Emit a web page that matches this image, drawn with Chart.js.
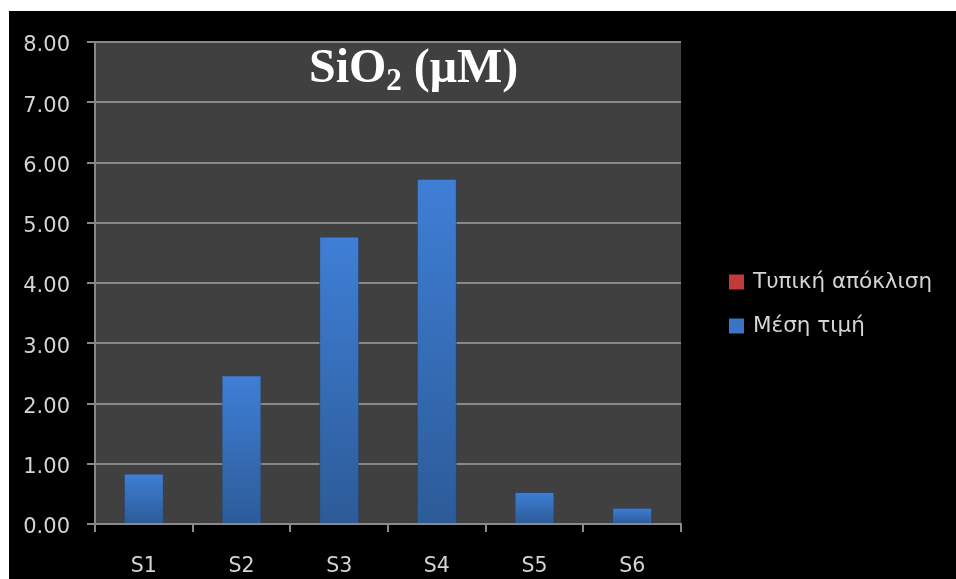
<!DOCTYPE html>
<html>
<head>
<meta charset="utf-8">
<script src="https://cdn.jsdelivr.net/npm/chart.js@4/dist/chart.umd.min.js"></script>
<style>
  html, body { margin: 0; padding: 0; background: #ffffff; }
  #frame { position: absolute; left: 9px; top: 11px; width: 947px; height: 568px; background: #000000; }
  #chart { display: block; }
</style>
</head>
<body>
<div id="frame"><canvas id="chart" width="947" height="568"></canvas></div>
<script>
// Silica concentration per station
const stations = ['S1', 'S2', 'S3', 'S4', 'S5', 'S6'];
const meanValues = [0.84, 2.47, 4.77, 5.73, 0.53, 0.27];
const stdDevValues = [null, null, null, null, null, null];
const seriesNames = ['Τυπική απόκλιση', 'Μέση τιμή'];
const yTicks = [0, 1, 2, 3, 4, 5, 6, 7, 8];

const LABEL_FONT = 'DejaVu Sans, Verdana, sans-serif';
const TEXT_COLOR = '#d4d4d4';

// vertical blue gradient for each bar, from its own top to the baseline
function barGradient(ctx) {
  const chart = ctx.chart;
  const yScale = chart.scales.y;
  if (!yScale || ctx.type !== 'data' || ctx.parsed == null) return '#3a74c4';
  const top = yScale.getPixelForValue(ctx.parsed.y);
  const base = yScale.getPixelForValue(0);
  if (!isFinite(top) || !isFinite(base) || base - top < 1) return '#3a74c4';
  const g = chart.ctx.createLinearGradient(0, top, 0, base);
  g.addColorStop(0, '#3f7fd6');
  g.addColorStop(1, '#2c5b98');
  return g;
}

const plotBackground = {
  id: 'plotBackground',
  beforeDraw(chart) {
    const { ctx, chartArea: a } = chart;
    ctx.save();
    ctx.fillStyle = '#404040';
    ctx.fillRect(a.left, a.top, a.right - a.left, a.bottom - a.top);
    ctx.restore();
  }
};

// title with subscript inside the plot
const titleWithSubscript = {
  id: 'titleWithSubscript',
  afterDraw(chart) {
    const ctx = chart.ctx;
    ctx.save();
    ctx.fillStyle = '#ffffff';
    ctx.textBaseline = 'alphabetic';
    ctx.textAlign = 'left';
    const big = 'bold 48px "Liberation Serif", "Times New Roman", serif';
    const small = 'bold 31px "Liberation Serif", "Times New Roman", serif';
    let x = 300;
    const y = 71;
    ctx.font = big;
    ctx.fillText('SiO', x, y);
    x += ctx.measureText('SiO').width;
    ctx.font = small;
    ctx.fillText('2', x, y + 8);
    x += ctx.measureText('2').width;
    ctx.font = big;
    ctx.fillText(' (μM)', x, y);
    ctx.restore();
  }
};

// legend at the right, built from the datasets
const sideLegend = {
  id: 'sideLegend',
  afterDraw(chart) {
    const ctx = chart.ctx;
    const rows = [271, 315];
    ctx.save();
    ctx.font = '21.5px ' + LABEL_FONT;
    ctx.textBaseline = 'middle';
    ctx.textAlign = 'left';
    chart.data.datasets.forEach((ds, i) => {
      const y = rows[i];
      ctx.fillStyle = ds.legendColor;
      ctx.fillRect(720, y - 7.5, 15, 15);
      ctx.fillStyle = TEXT_COLOR;
      ctx.fillText(ds.label, 744, y);
    });
    ctx.restore();
  }
};

new Chart(document.getElementById('chart'), {
  type: 'bar',
  data: {
    labels: stations,
    datasets: [
      {
        label: seriesNames[0],
        data: stdDevValues,
        backgroundColor: '#c23a3a',
        legendColor: '#c23a3a',
        grouped: false,
        barPercentage: 0.41,
        categoryPercentage: 1
      },
      {
        label: seriesNames[1],
        data: meanValues,
        backgroundColor: barGradient,
        legendColor: '#3a74c4',
        borderColor: 'rgba(35, 70, 125, 0.7)',
        borderWidth: 1,
        grouped: false,
        barPercentage: 0.41,
        categoryPercentage: 1
      }
    ]
  },
  options: {
    responsive: false,
    animation: false,
    devicePixelRatio: 1,
    layout: { padding: { top: 31, right: 275, left: 0, bottom: 0 } },
    plugins: {
      legend: { display: false },
      title: { display: false },
      tooltip: { enabled: false }
    },
    scales: {
      x: {
        grid: {
          display: true,
          drawOnChartArea: false,
          drawTicks: true,
          tickLength: 8,
          color: '#8a8a8a',
          lineWidth: 2
        },
        border: { display: true, color: '#8a8a8a', width: 2 },
        ticks: {
          color: TEXT_COLOR,
          font: { family: LABEL_FONT, size: 20.5 },
          padding: 22
        },
        afterFit(scale) { scale.height = 55; }
      },
      y: {
        min: 0,
        max: 8,
        afterBuildTicks(scale) { scale.ticks = yTicks.map(v => ({ value: v })); },
        grid: {
          color: '#888888',
          lineWidth: 2,
          drawTicks: true,
          tickLength: 8
        },
        border: { display: true, color: '#888888', width: 2 },
        ticks: {
          color: TEXT_COLOR,
          font: { family: LABEL_FONT, size: 21 },
          padding: 17,
          labelOffset: 4,
          callback: v => Number(v).toFixed(2)
        },
        afterFit(scale) { scale.width = 86; }
      }
    }
  },
  plugins: [plotBackground, titleWithSubscript, sideLegend]
});
</script>
</body>
</html>
